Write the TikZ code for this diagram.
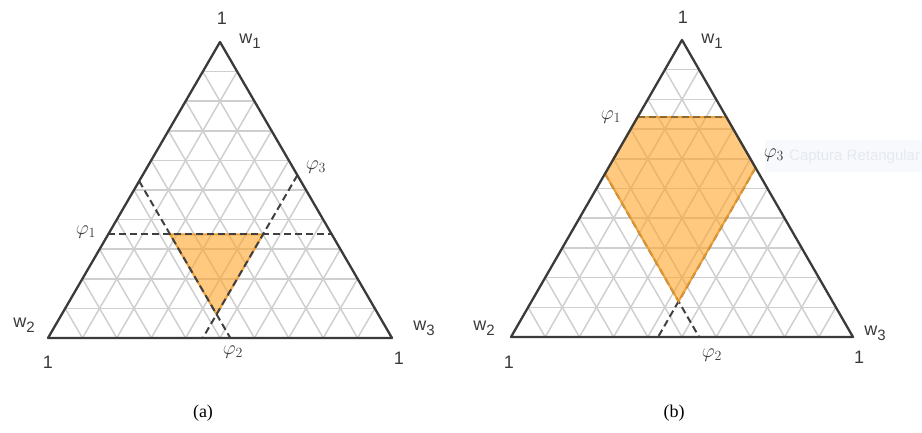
\RequirePackage{fix-cm}
\documentclass[tikz,border=0pt]{standalone}
\usepackage{fontspec}
\setmainfont{Liberation Sans}
\newfontfamily\capfont{Liberation Serif}
\usetikzlibrary{positioning,calc}

\definecolor{gridgray}{HTML}{CFCFCF}
\definecolor{edgegray}{HTML}{3A3A3A}
\definecolor{dashgray}{HTML}{404040}
\definecolor{regionfill}{HTML}{FFA52A}
\definecolor{regionedge}{HTML}{E89A2E}
\definecolor{snipback}{HTML}{F7F9FC}
\definecolor{sniptext}{HTML}{E6EAF0}

\newcommand\wlab[1]{w\raisebox{-0.5ex}{\fontsize{15}{15}\selectfont #1}}

\begin{document}
\begin{tikzpicture}[
    x=1pt, y=1pt,
    grid/.style={gridgray, line width=1.5pt},
    frame/.style={edgegray, line width=2.3pt, line join=round},
    bound/.style={dashgray, line width=2pt, dash pattern=on 7pt off 4pt},
    region/.style={fill=regionfill, fill opacity=0.6, draw=regionedge, draw opacity=0.9, line width=2pt},
    lab/.style={font=\fontsize{18}{18}\selectfont, text=edgegray, inner sep=1pt},
    philab/.style={font=\fontsize{20}{20}\selectfont, text=edgegray, inner sep=1pt},
    caption/.style={font=\capfont\fontsize{18}{18}\selectfont, inner sep=1pt}
]
\useasboundingbox (0,0) rectangle (922,432);

% screen snip overlay
\fill[snipback] (765,260) rectangle (922,292);
\node[anchor=west, text=sniptext, font=\fontsize{15}{15}\selectfont, inner sep=0pt] (snip) at (789,275) {Captura Retangular};

% vertices of the two simplexes
\coordinate (aT) at (220,390);
\coordinate (aL) at (48,94);
\coordinate (aR) at (392,94);
\coordinate (bT) at (682,392);
\coordinate (bL) at (511,95);
\coordinate (bR) at (853,95);

% triangular grid
\foreach \t in {a,b}{
  \foreach \k in {1,...,9}{
    \draw[grid] ($(\t L)!\k/10!(\t T)$) -- ($(\t R)!\k/10!(\t T)$);
    \draw[grid] ($(\t L)!\k/10!(\t R)$) -- ($(\t T)!\k/10!(\t R)$);
    \draw[grid] ($(\t R)!\k/10!(\t L)$) -- ($(\t T)!\k/10!(\t L)$);
  }
}

% (a) bounds
\coordinate (aP1l) at (barycentric cs:aT=.35,aL=.65);
\coordinate (aP1r) at (barycentric cs:aT=.35,aR=.65);
\coordinate (aP2t) at (barycentric cs:aT=.53,aL=.47);
\coordinate (aP2b) at (barycentric cs:aL=.47,aR=.53);
\coordinate (aP3t) at (barycentric cs:aT=.55,aR=.45);
\coordinate (aP3b) at (barycentric cs:aL=.55,aR=.45);
\filldraw[region] (barycentric cs:aT=.35,aL=.47,aR=.18)
  -- (barycentric cs:aT=.35,aL=.20,aR=.45)
  -- (barycentric cs:aT=.08,aL=.47,aR=.45) -- cycle;
\draw[bound] (aP1l) -- (aP1r);
\draw[bound] (aP2t) -- (aP2b);
\draw[bound] (aP3t) -- (aP3b);

% (b) bounds
\coordinate (bP1l) at (barycentric cs:bT=.74,bL=.26);
\coordinate (bP1r) at (barycentric cs:bT=.74,bR=.26);
\coordinate (bP2t) at (barycentric cs:bT=.55,bL=.45);
\coordinate (bP2b) at (barycentric cs:bL=.45,bR=.55);
\coordinate (bP3t) at (barycentric cs:bT=.57,bR=.43);
\coordinate (bP3b) at (barycentric cs:bL=.57,bR=.43);
\draw[bound] (bP1l) -- (bP1r);
\draw[bound] (bP2t) -- (bP2b);
\draw[bound] (bP3t) -- (bP3b);
\filldraw[region] (bP1l) -- (bP1r) -- (bP3t)
  -- (barycentric cs:bT=.12,bL=.45,bR=.43) -- (bP2t) -- cycle;
\draw[bound, draw opacity=0.5] (bP1l) -- (bP1r);

% outlines
\draw[frame] (aT) -- (aL) -- (aR) -- cycle;
\draw[frame] (bT) -- (bL) -- (bR) -- cycle;

% labels (a)
\node[lab] (aOneT) at (222,414) {1};
\node[lab] (aW1) at (250,391) {\wlab{1}};
\node[lab] (aW2) at (24,107) {\wlab{2}};
\node[lab] (aOneL) at (48,70) {1};
\node[lab] (aW3) at (424,104) {\wlab{3}};
\node[lab] (aOneR) at (399,74) {1};
\node[philab] (aPhi1) at (86,200) {$\varphi_1$};
\node[philab] (aPhi3) at (316,265) {$\varphi_3$};
\node[philab] (aPhi2) at (233,80) {$\varphi_2$};
\node[caption] (capA) at (203,19) {(a)};

% labels (b)
\node[lab] (bOneT) at (683,415) {1};
\node[lab] (bW1) at (712,391) {\wlab{1}};
\node[lab] (bW2) at (484,104) {\wlab{2}};
\node[lab] (bOneL) at (509,70) {1};
\node[lab] (bW3) at (875,99) {\wlab{3}};
\node[lab] (bOneR) at (859,75) {1};
\node[philab] (bPhi1) at (611,315) {$\varphi_1$};
\node[philab] (bPhi3) at (774,277) {$\varphi_3$};
\node[philab] (bPhi2) at (712,77) {$\varphi_2$};
\node[caption] (capB) at (674,19) {(b)};
\end{tikzpicture}
\end{document}
